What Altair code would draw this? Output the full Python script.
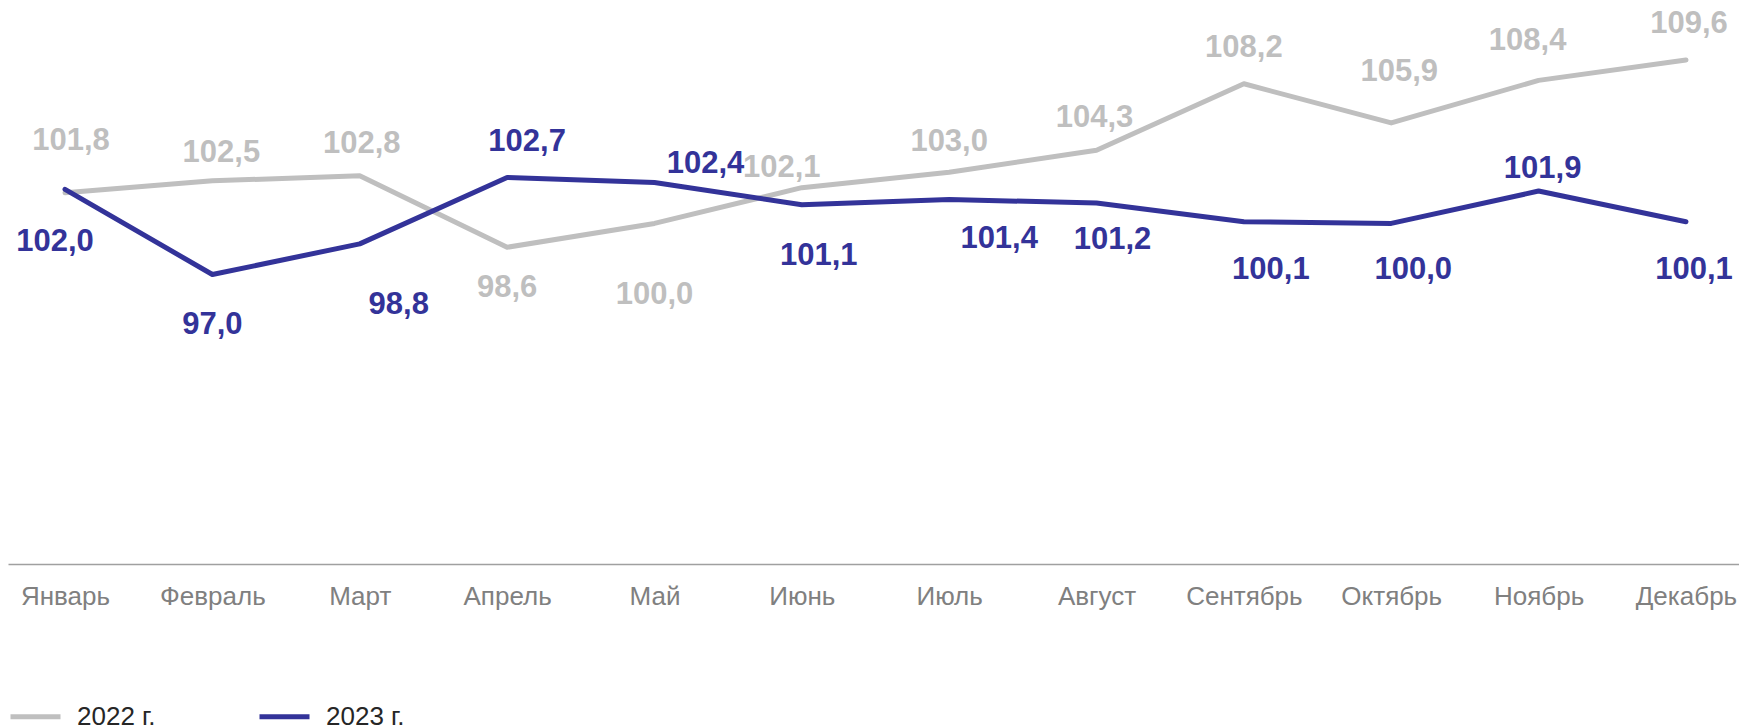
import json
import altair as alt
import pandas as pd

MONTHS = ["Январь", "Февраль", "Март", "Апрель", "Май", "Июнь",
          "Июль", "Август", "Сентябрь", "Октябрь", "Ноябрь", "Декабрь"]
SERIES = ["2022 г.", "2023 г."]
VALUES_2022 = [101.8, 102.5, 102.8, 98.6, 100.0, 102.1, 103.0, 104.3, 108.2, 105.9, 108.4, 109.6]
VALUES_2023 = [102.0, 97.0, 98.8, 102.7, 102.4, 101.1, 101.4, 101.2, 100.1, 100.0, 101.9, 100.1]

# label offsets from their points, in pixels (styling, not data)
LABEL_DX_2022 = [6, 9, 2, 0, 0, -20, 0, -2, 0, 8, -11, 3]
LABEL_DY_2022 = [-52, -28, -32, 41, 72, -20, -30, -32, -36, -51, -39, -36]
LABEL_DX_2023 = [-10, 0, 39, 20, 51, 17, 50, 16, 27, 22, 4, 8]
LABEL_DY_2023 = [53, 50, 61, -35, -19, 51, 39, 37, 48, 47, -22, 48]

PX_PER_MONTH = 147.36
PX_PER_UNIT = 17.03
X_DOMAIN = [-0.387, 11.36]
Y_DOMAIN = [80, 112.65]
COLORS = ["#BFBFBF", "#333399"]

rows = []
for s, vals, dxs, dys in [(SERIES[0], VALUES_2022, LABEL_DX_2022, LABEL_DY_2022),
                          (SERIES[1], VALUES_2023, LABEL_DX_2023, LABEL_DY_2023)]:
    for i, (v, dx, dy) in enumerate(zip(vals, dxs, dys)):
        rows.append({"idx": i, "month": MONTHS[i], "value": v, "series": s,
                     "dx": dx, "dy": dy})
df = pd.DataFrame(rows)

legend = alt.Legend(title=None, orient="none", legendX=0, legendY=681,
                    direction="horizontal", symbolType="stroke",
                    symbolSize=2500, symbolStrokeWidth=5,
                    labelFontSize=26, labelFont="Liberation Sans",
                    labelColor="#262626", labelOffset=14,
                    columnPadding=93)
color_scale = alt.Scale(domain=SERIES, range=COLORS)

month_expr = json.dumps(MONTHS, ensure_ascii=False) + "[datum.value]"
x_axis = alt.Axis(title=None, values=list(range(12)), labelExpr=month_expr,
                  grid=False, ticks=False, domainColor="#A0A0A0", domainWidth=1.3,
                  labelFontSize=26, labelFont="Liberation Sans", labelColor="#808080",
                  labelPadding=40, labelBaseline="alphabetic", labelFlush=False,
                  labelOverlap=False)
x_scale = alt.Scale(domain=X_DOMAIN, nice=False, zero=False)
y_scale = alt.Scale(domain=Y_DOMAIN, nice=False, zero=False)

base = alt.Chart(df)

lines = base.mark_line(strokeWidth=5, strokeCap="round", strokeJoin="round").encode(
    x=alt.X("idx:Q", scale=x_scale, axis=x_axis),
    y=alt.Y("value:Q", scale=y_scale, axis=None),
    color=alt.Color("series:N", scale=color_scale, legend=legend),
    detail="series:N", order="idx:Q")

labels = base.transform_calculate(
    lx=f"datum.idx + datum.dx / {PX_PER_MONTH}",
    ly=f"datum.value - datum.dy / {PX_PER_UNIT}",
    txt="replace(format(datum.value, '.1f'), '.', ',')",
).mark_text(fontSize=31, fontWeight="bold", font="Liberation Sans",
            align="center", baseline="middle").encode(
    x=alt.X("lx:Q", scale=x_scale, axis=x_axis),
    y=alt.Y("ly:Q", scale=y_scale, axis=None),
    text="txt:N",
    color=alt.Color("series:N", scale=color_scale, legend=legend),
)

chart = alt.layer(lines, labels).properties(
    width=1731, height=556,
    background="white",
    autosize=alt.AutoSizeParams(type="none"),
    padding={"left": 0, "top": 0, "right": 0, "bottom": 170},
).configure_view(stroke=None)

chart.save("out.html", embed_options={"renderer": "svg", "actions": False})
